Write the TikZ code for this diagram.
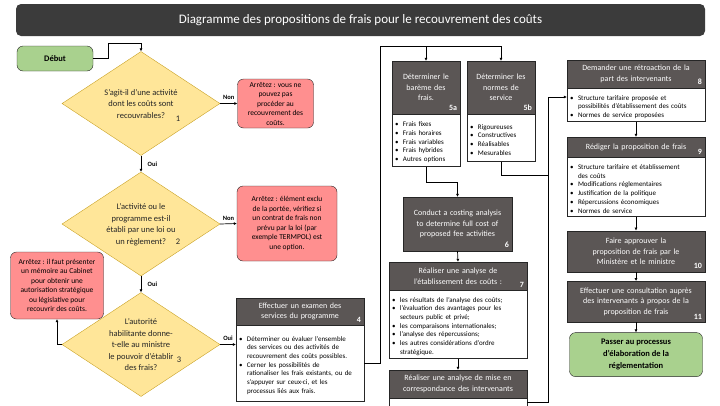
\documentclass[tikz,border=0pt]{standalone}
\usepackage{fontspec}
\setmainfont{Carlito}
\usetikzlibrary{arrows.meta,positioning,calc,shapes.geometric}
\definecolor{TitleGray}{HTML}{3B3B3B}
\definecolor{HeadGray}{HTML}{5B5655}
\definecolor{EdgeGray}{HTML}{262626}
\definecolor{SoftGold}{HTML}{FFE699}
\definecolor{DeepGold}{HTML}{C9A227}
\definecolor{SoftRed}{HTML}{FF8F8F}
\definecolor{SoftGreen}{HTML}{A9D18E}
\newcommand{\bul}{\par\noindent\hangindent=8pt\hangafter=1\makebox[8pt][l]{\textbullet}}
\newcommand{\brk}{\hfil\break}
\tikzset{
  titlebar/.style={fill=TitleGray,rounded corners=5pt,minimum width=689pt,minimum height=32pt,
              text=white,font=\fontsize{13}{15}\selectfont},
  headbox/.style={draw=EdgeGray,fill=HeadGray,text=white,align=center,inner sep=2pt,
              font=\fontsize{8}{10.5}\selectfont},
  listbox/.style={draw=EdgeGray,fill=white,align=left,inner sep=3pt,
              font=\fontsize{7}{8.7}\selectfont},
  decision/.style={diamond,draw=DeepGold,fill=SoftGold,minimum width=158pt,minimum height=104pt,inner sep=0pt},
  dtext/.style={align=center,font=\fontsize{8.5}{11.5}\selectfont,text=black!85},
  dnum/.style={font=\fontsize{8.5}{10}\selectfont,text=black!85},
  stopbox/.style={draw=EdgeGray,fill=SoftRed,rounded corners=6pt,align=center,inner sep=2pt,
              font=\fontsize{7.5}{9.5}\selectfont},
  termbox/.style={draw=EdgeGray,fill=SoftGreen,rounded corners=6pt,align=center,
              font=\bfseries\fontsize{8.5}{12}\selectfont},
  num/.style={text=white,font=\bfseries\fontsize{8}{9}\selectfont,anchor=south east,inner sep=3pt},
  flow/.style={-{Latex[length=3pt,width=3pt]},line width=0.7pt,draw=black},
  link/.style={line width=0.7pt,draw=black},
  branch/.style={font=\bfseries\fontsize{6.5}{8}\selectfont}
}
\begin{document}
\begin{tikzpicture}[x=1pt,y=-1pt]
  \clip (0,0) rectangle (720,405);
  \node[titlebar] (title) at (360.5,20) {Diagramme des propositions de frais pour le recouvrement des coûts};
  \node[termbox,minimum width=76pt,minimum height=25pt] (start) at (55,58.5) {Début};

  % questions
  \node[decision] (d1) at (141,103.5) {};
  \node[dtext] (d1t) at (141,104) {S’agit-il d’une activité\\dont les coûts sont\\recouvrables?};
  \node[dnum] (d1n) at (178,119) {1};
  \node[decision] (d2) at (141,224) {};
  \node[dtext] (d2t) at (141,224.5) {L’activité ou le\\programme est-il\\établi par une loi ou\\un règlement?};
  \node[dnum] (d2n) at (178,242) {2};
  \node[decision] (d3) at (141,344.5) {};
  \node[dtext] (d3t) at (141,345) {L’autorité\\habilitante donne-\\t-elle au ministre\\le pouvoir d’établir\\des frais?};
  \node[dnum] (d3n) at (179,360) {3};

  % stops
  \node[stopbox,minimum width=76pt,minimum height=49pt] (stop1) at (275.5,103.5) {Arrêtez : vous ne\\pouvez pas\\procéder au\\recouvrement des\\coûts.};
  \node[stopbox,minimum width=100pt,minimum height=75pt] (stop2) at (287,223.5) {Arrêtez : élément exclu\\de la portée, vérifiez si\\un contrat de frais non\\prévu par la loi (par\\exemple TERMPOL) est\\une option.};
  \node[stopbox,minimum width=93pt,minimum height=67pt] (stop3) at (57,285.5) {Arrêtez : il faut présenter\\un mémoire au Cabinet\\pour obtenir une\\autorisation stratégique\\ou législative pour\\recouvrir des coûts.};

  % steps 4 to 7
  \node[headbox,minimum width=128pt,minimum height=27pt,text width=120pt] (head4) at (300,311.5) {Effectuer un examen des\\services du programme};
  \node[num] (num4) at (head4.south east) {4};
  \node[listbox,minimum width=128pt,minimum height=76pt,text width=122pt,below=0pt of head4] (list4) {\bul Déterminer ou évaluer l’ensemble\brk des services ou des activités de\brk recouvrement des coûts possibles.\bul Cerner les possibilités de\brk rationaliser les frais existants, ou de\brk s’appuyer sur ceux-ci, et les\brk processus liés aux frais.\par};

  \node[headbox,minimum width=68pt,minimum height=53pt,text width=60pt] (head5a) at (426,87.5) {Déterminer le\\barème des\\frais.};
  \node[num] (num5a) at (head5a.south east) {5a};
  \node[listbox,minimum width=68pt,minimum height=52pt,text width=62pt,below=0pt of head5a] (list5a) {\bul Frais fixes\bul Frais horaires\bul Frais variables\bul Frais hybrides\bul Autres options\par};
  \node[headbox,minimum width=68pt,minimum height=53pt,text width=60pt] (head5b) at (501,87.5) {Déterminer les\\normes de\\service};
  \node[num] (num5b) at (head5b.south east) {5b};
  \node[listbox,minimum width=68pt,minimum height=47pt,text width=62pt,below=0pt of head5b] (list5b) {\bul Rigoureuses\bul Constructives\bul Réalisables\bul Mesurables\par};

  \node[headbox,minimum width=109pt,minimum height=54pt,text width=104pt] (box6) at (457.5,224) {Conduct a costing analysis\\to determine full cost of\\proposed fee activities};
  \node[num] (num6) at (box6.south east) {6};

  \node[headbox,minimum width=138pt,minimum height=28pt,text width=130pt] (head7) at (458,276) {Réaliser une analyse de\\l’établissement des coûts :};
  \node[num] (num7) at (head7.south east) {7};
  \node[listbox,minimum width=138pt,minimum height=67pt,text width=132pt,below=0pt of head7] (list7) {\bul les résultats de l’analyse des coûts;\bul l’évaluation des avantages pour les\brk secteurs public et privé;\bul les comparaisons internationales;\bul l’analyse des répercussions;\bul les autres considérations d’ordre\brk stratégique.\par};
  \node[headbox,minimum width=138pt,minimum height=28pt,text width=130pt] (head7b) at (458,384) {Réaliser une analyse de mise en\\correspondance des intervenants};
  \node[listbox,minimum width=138pt,minimum height=30pt,below=0pt of head7b] (list7b) {};

  % steps 8 to 11
  \node[headbox,minimum width=138pt,minimum height=28pt,text width=130pt] (head8) at (636,74) {Demander une rétroaction de la\\part des intervenants};
  \node[num] (num8) at (head8.south east) {8};
  \node[listbox,minimum width=138pt,minimum height=33pt,text width=132pt,below=0pt of head8] (list8) {\bul Structure tarifaire proposée et\brk possibilités d’établissement des coûts\bul Normes de service proposées\par};
  \node[headbox,minimum width=138pt,minimum height=20pt,text width=130pt,below=15pt of list8] (head9) {Rédiger la proposition de frais};
  \node[num] (num9) at (head9.south east) {9};
  \node[listbox,minimum width=138pt,minimum height=59pt,text width=132pt,below=0pt of head9] (list9) {\bul Structure tarifaire et établissement\brk des coûts\bul Modifications réglementaires\bul Justification de la politique\bul Répercussions économiques\bul Normes de service\par};
  \node[headbox,minimum width=138pt,minimum height=41pt,text width=130pt,below=14pt of list9] (box10) {Faire approuver la\\proposition de frais par le\\Ministère et le ministre};
  \node[num] (num10) at (box10.south east) {10};
  \node[headbox,minimum width=138pt,minimum height=41pt,text width=130pt,below=9pt of box10] (box11) {Effectuer une consultation auprès\\des intervenants à propos de la\\proposition de frais};
  \node[num] (num11) at (box11.south east) {11};
  \node[termbox,minimum width=133pt,minimum height=44pt,below=10pt of box11] (done) {Passer au processus\\d’élaboration de la\\réglementation};

  % connectors
  \coordinate (jn0) at (108,43);
  \coordinate (jn1) at (380,46);
  \coordinate (jn2) at (548,175);
  \coordinate (rail) at (548,97);
  \draw[flow] (start.east) -| (jn0) -| (d1.north);
  \draw[flow] (d1.east) -- node[branch,above] {Non} (stop1.west);
  \draw[flow] (d1.south) -- node[branch,right,xshift=3pt] {Oui} (d2.north);
  \draw[flow] (d2.east) -- node[branch,above] {Non} (stop2.west);
  \draw[flow] (d2.south) -- node[branch,right,xshift=3pt] {Oui} (d3.north);
  \draw[flow] (d3.west) -| (stop3.south);
  \draw[flow] (d3.east) -- node[branch,above] {Oui} (d3.east -| list4.west);
  \draw[flow] (list4.east) -| (jn1) -| (head5b.north);
  \draw[flow] (jn1) -| (head5a.north);
  \draw[flow] (list5a.south) -- ++(0,16) -| (box6.north);
  \draw[flow] (box6.south) -- (head7.north);
  \draw[flow] (list7.south) -- (head7b.north);
  \draw[link] (list5b.south) |- (jn2);
  \draw[flow] ([yshift=-4pt]list7b.north east) -| (rail) -- (rail -| list8.west);
  \draw[flow] (list8.south) -- (head9.north);
  \draw[flow] (list9.south) -- (box10.north);
  \draw[flow] (box10.south) -- (box11.north);
  \draw[flow] (box11.south) -- (done.north);
\end{tikzpicture}
\end{document}
